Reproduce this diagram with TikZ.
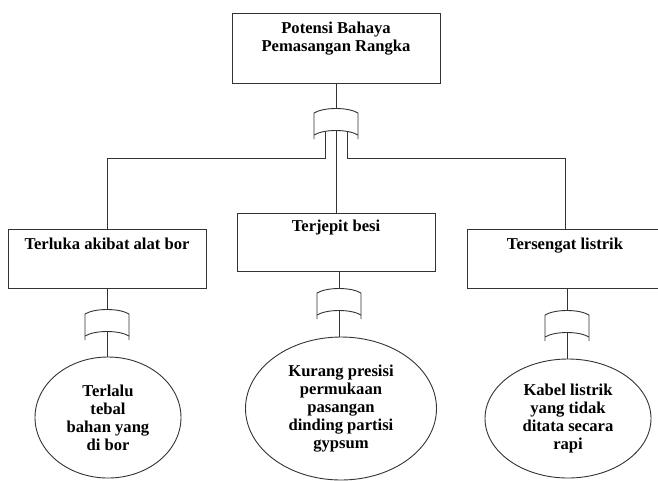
\documentclass[tikz,border=0pt]{standalone}
\usepackage{fontspec}
\setmainfont{Liberation Serif}
\usetikzlibrary{calc,shapes.geometric}
\def\orgate(#1)(#2,#3){%
	\draw[gateline] (#2-22,#3+31) -- (#2-22,#3+5) .. controls (#2-12,#3-1) and (#2+12,#3-1) .. (#2+22,#3+5) -- (#2+22,#3+31);
	\draw[gateline] (#2-22,#3+27) .. controls (#2-12,#3+21) and (#2+12,#3+21) .. (#2+22,#3+27);
	\coordinate (#1in) at (#2,#3);
	\coordinate (#1out) at (#2,#3+23);
	\coordinate (#1outl) at (#2-11,#3+24);
	\coordinate (#1outr) at (#2+11,#3+24);
}

\begin{document}
\begin{tikzpicture}[x=1pt, y=-1pt,
	every node/.style={font=\bfseries\fontsize{16.6}{18}\selectfont, align=center},
	box/.style={draw=black!80, line width=0.9pt, rectangle, inner sep=0pt},
	inlabel/.style={anchor=north, inner sep=0pt, yshift=-9pt},
	cause/.style={draw=black!80, line width=0.9pt, ellipse, inner sep=0pt},
	gateline/.style={draw=black!80, line width=0.9pt},
	link/.style={draw=black!80, line width=0.9pt}]
			%%%%% START %%%%%
			
			\useasboundingbox (0, 0) rectangle (658, 480);
			
			\node[box, minimum width=208pt, minimum height=70pt, label={[inlabel]north:Potensi Bahaya\\Pemasangan Rangka}] (top) at (336, 48) {};
			
			\node[box, minimum width=198pt, minimum height=59pt, label={[inlabel]north:Terluka akibat alat bor}] (bor) at (107, 258.5) {};
			\node[box, minimum width=198pt, minimum height=58pt, label={[inlabel, yshift=2pt]north:Terjepit besi}] (besi) at (336, 242) {};
			\node[box, minimum width=196pt, minimum height=59pt, label={[inlabel]north:Tersengat listrik}] (listrik) at (565, 258.5) {};
			
			\node[cause, minimum width=146pt, minimum height=121pt] (bahan) at (108, 417.5) {Terlalu\\tebal\\bahan yang\\di bor};
			\node[cause, minimum width=191pt, minimum height=143pt] (presisi) at (341, 408.5) {Kurang presisi\\permukaan\\pasangan\\dinding partisi\\gypsum};
			\node[cause, minimum width=166pt, minimum height=119pt] (kabel) at (568, 418.5) {Kabel listrik\\yang tidak\\ditata secara\\rapi};
			
			\orgate(g0)(336, 108)
			\orgate(g1)(107, 309)
			\orgate(g2)(339, 288)
			\orgate(g3)(567, 310)
			
			\coordinate (split) at (336, 158);
			
			\draw[link] (top.south) -- (g0in);
			\draw[link] (g0outl) -- (g0outl |- split) -| (bor.north);
			\draw[link] (g0outr) -- (g0outr |- split) -| (listrik.north);
			\draw[link] (g0out) -- (besi.north);
			
			\draw[link] (g1in |- bor.south) -- (g1in);
			\draw[link] (g1out) -- (g1out |- bahan.north);
			\draw[link] (g2in |- besi.south) -- (g2in);
			\draw[link] (g2out) -- (g2out |- presisi.north);
			\draw[link] (g3in |- listrik.south) -- (g3in);
			\draw[link] (g3out) -- (g3out |- kabel.north);
			
			%%%%% END %%%%%
\end{tikzpicture}
\end{document}
